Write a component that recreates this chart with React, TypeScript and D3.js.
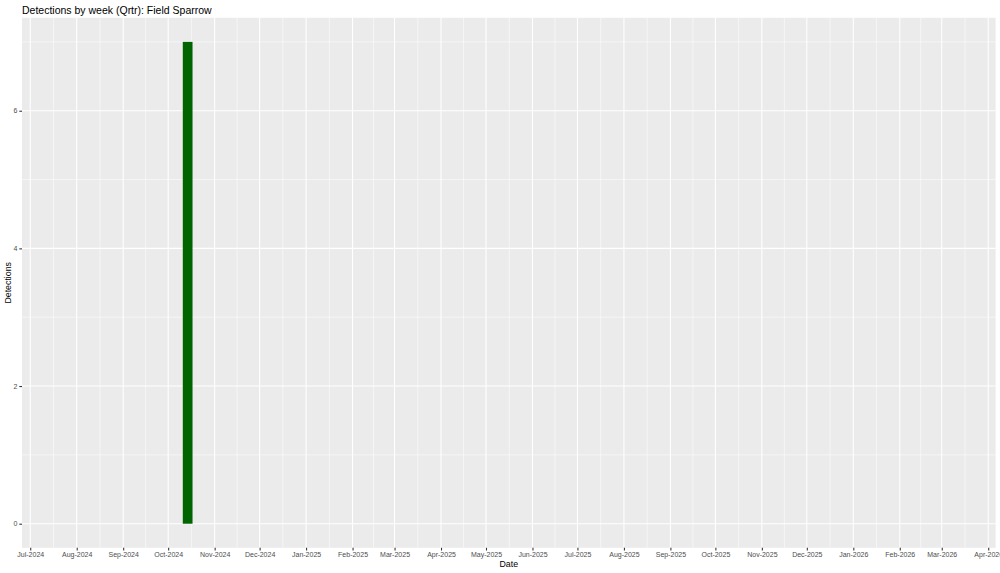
import * as d3 from "d3";
import { useEffect, useRef } from "react";

// weekly detections (only one non-empty week)
const weekStarts = ["2024-10-14"];
const detections = [7];

const xLimits = ["2024-06-25T12:00:00Z", "2026-04-05T22:00:00Z"];
const monthTicks = [
  "2024-07-01", "2024-08-01", "2024-09-01", "2024-10-01", "2024-11-01", "2024-12-01",
  "2025-01-01", "2025-02-01", "2025-03-01", "2025-04-01", "2025-05-01", "2025-06-01",
  "2025-07-01", "2025-08-01", "2025-09-01", "2025-10-01", "2025-11-01", "2025-12-01",
  "2026-01-01", "2026-02-01", "2026-03-01", "2026-04-01",
];
const yTicks = [0, 2, 4, 6];
const yMinor = [1, 3, 5, 7];

const title = "Detections by week (Qrtr): Field Sparrow";

export default function App() {
  const ref = useRef(null);

  useEffect(() => {
    const el = ref.current;
    d3.select(el).selectAll("*").remove();

    const W = 1000;
    const H = 573;
    const left = 22, right = 995.6, top = 17.8, bottom = 547.8;
    const font = "'Liberation Sans', Arial, sans-serif";

    const svg = d3
      .select(el)
      .append("svg")
      .attr("width", W)
      .attr("height", H)
      .style("display", "block");

    svg.append("rect").attr("width", W).attr("height", H).attr("fill", "white");

    const x = d3
      .scaleUtc()
      .domain(xLimits.map((d) => new Date(d)))
      .range([left, right]);
    const y = d3.scaleLinear().domain([-0.35, 7.35]).range([bottom, top]);

    const majors = monthTicks.map((d) => new Date(d + "T00:00:00Z"));
    const minors = d3.pairs(majors).map(([a, b]) => new Date((+a + +b) / 2));

    svg
      .append("rect")
      .attr("x", left)
      .attr("y", top)
      .attr("width", right - left)
      .attr("height", bottom - top)
      .attr("fill", "#EBEBEB");

    const grid = svg.append("g").attr("stroke", "white").attr("fill", "none");
    minors.forEach((d) => {
      grid.append("line")
        .attr("x1", x(d)).attr("x2", x(d)).attr("y1", top).attr("y2", bottom)
        .attr("stroke-width", 0.53);
    });
    yMinor.forEach((v) => {
      grid.append("line")
        .attr("x1", left).attr("x2", right).attr("y1", y(v)).attr("y2", y(v))
        .attr("stroke-width", 0.53);
    });
    majors.forEach((d) => {
      grid.append("line")
        .attr("x1", x(d)).attr("x2", x(d)).attr("y1", top).attr("y2", bottom)
        .attr("stroke-width", 1.07);
    });
    yTicks.forEach((v) => {
      grid.append("line")
        .attr("x1", left).attr("x2", right).attr("y1", y(v)).attr("y2", y(v))
        .attr("stroke-width", 1.07);
    });

    // bars: one week wide-ish columns centred on the week start
    const halfDays = 3.25;
    const dayMs = 86400000;
    svg
      .append("g")
      .selectAll("rect")
      .data(weekStarts.map((d, i) => ({ date: new Date(d + "T00:00:00Z"), value: detections[i] })))
      .join("rect")
      .attr("x", (d) => x(new Date(+d.date - halfDays * dayMs)))
      .attr("width", (d) => x(new Date(+d.date + halfDays * dayMs)) - x(new Date(+d.date - halfDays * dayMs)))
      .attr("y", (d) => y(d.value))
      .attr("height", (d) => y(0) - y(d.value))
      .attr("fill", "#006400");

    // x axis
    const xAxis = d3
      .axisBottom(x)
      .tickValues(majors)
      .tickFormat((d) => d3.utcFormat("%b-%Y")(d))
      .tickSize(2.7)
      .tickPadding(2);
    const gx = svg.append("g").attr("transform", `translate(0,${bottom})`).call(xAxis);
    gx.select(".domain").remove();
    gx.selectAll("line").attr("stroke", "#333333").attr("stroke-width", 1.07);
    gx.selectAll("text")
      .attr("fill", "#4D4D4D")
      .style("font-family", font)
      .style("font-size", "7px");

    // y axis
    const yAxis = d3.axisLeft(y).tickValues(yTicks).tickSize(2.7).tickPadding(2);
    const gy = svg.append("g").attr("transform", `translate(${left},0)`).call(yAxis);
    gy.select(".domain").remove();
    gy.selectAll("line").attr("stroke", "#333333").attr("stroke-width", 1.07);
    gy.selectAll("text")
      .attr("fill", "#4D4D4D")
      .style("font-family", font)
      .style("font-size", "7px");

    svg
      .append("text")
      .attr("x", (left + right) / 2)
      .attr("y", 567)
      .attr("text-anchor", "middle")
      .style("font-family", font)
      .style("font-size", "8.8px")
      .text("Date");

    svg
      .append("text")
      .attr("transform", `translate(11.3,${(top + bottom) / 2}) rotate(-90)`)
      .attr("text-anchor", "middle")
      .style("font-family", font)
      .style("font-size", "8.8px")
      .text("Detections");

    svg
      .append("text")
      .attr("x", left)
      .attr("y", 13.5)
      .style("font-family", font)
      .style("font-size", "10.5px")
      .text(title);
  }, []);

  return <div ref={ref} style={{ position: "absolute", left: 0, top: 0 }} />;
}
